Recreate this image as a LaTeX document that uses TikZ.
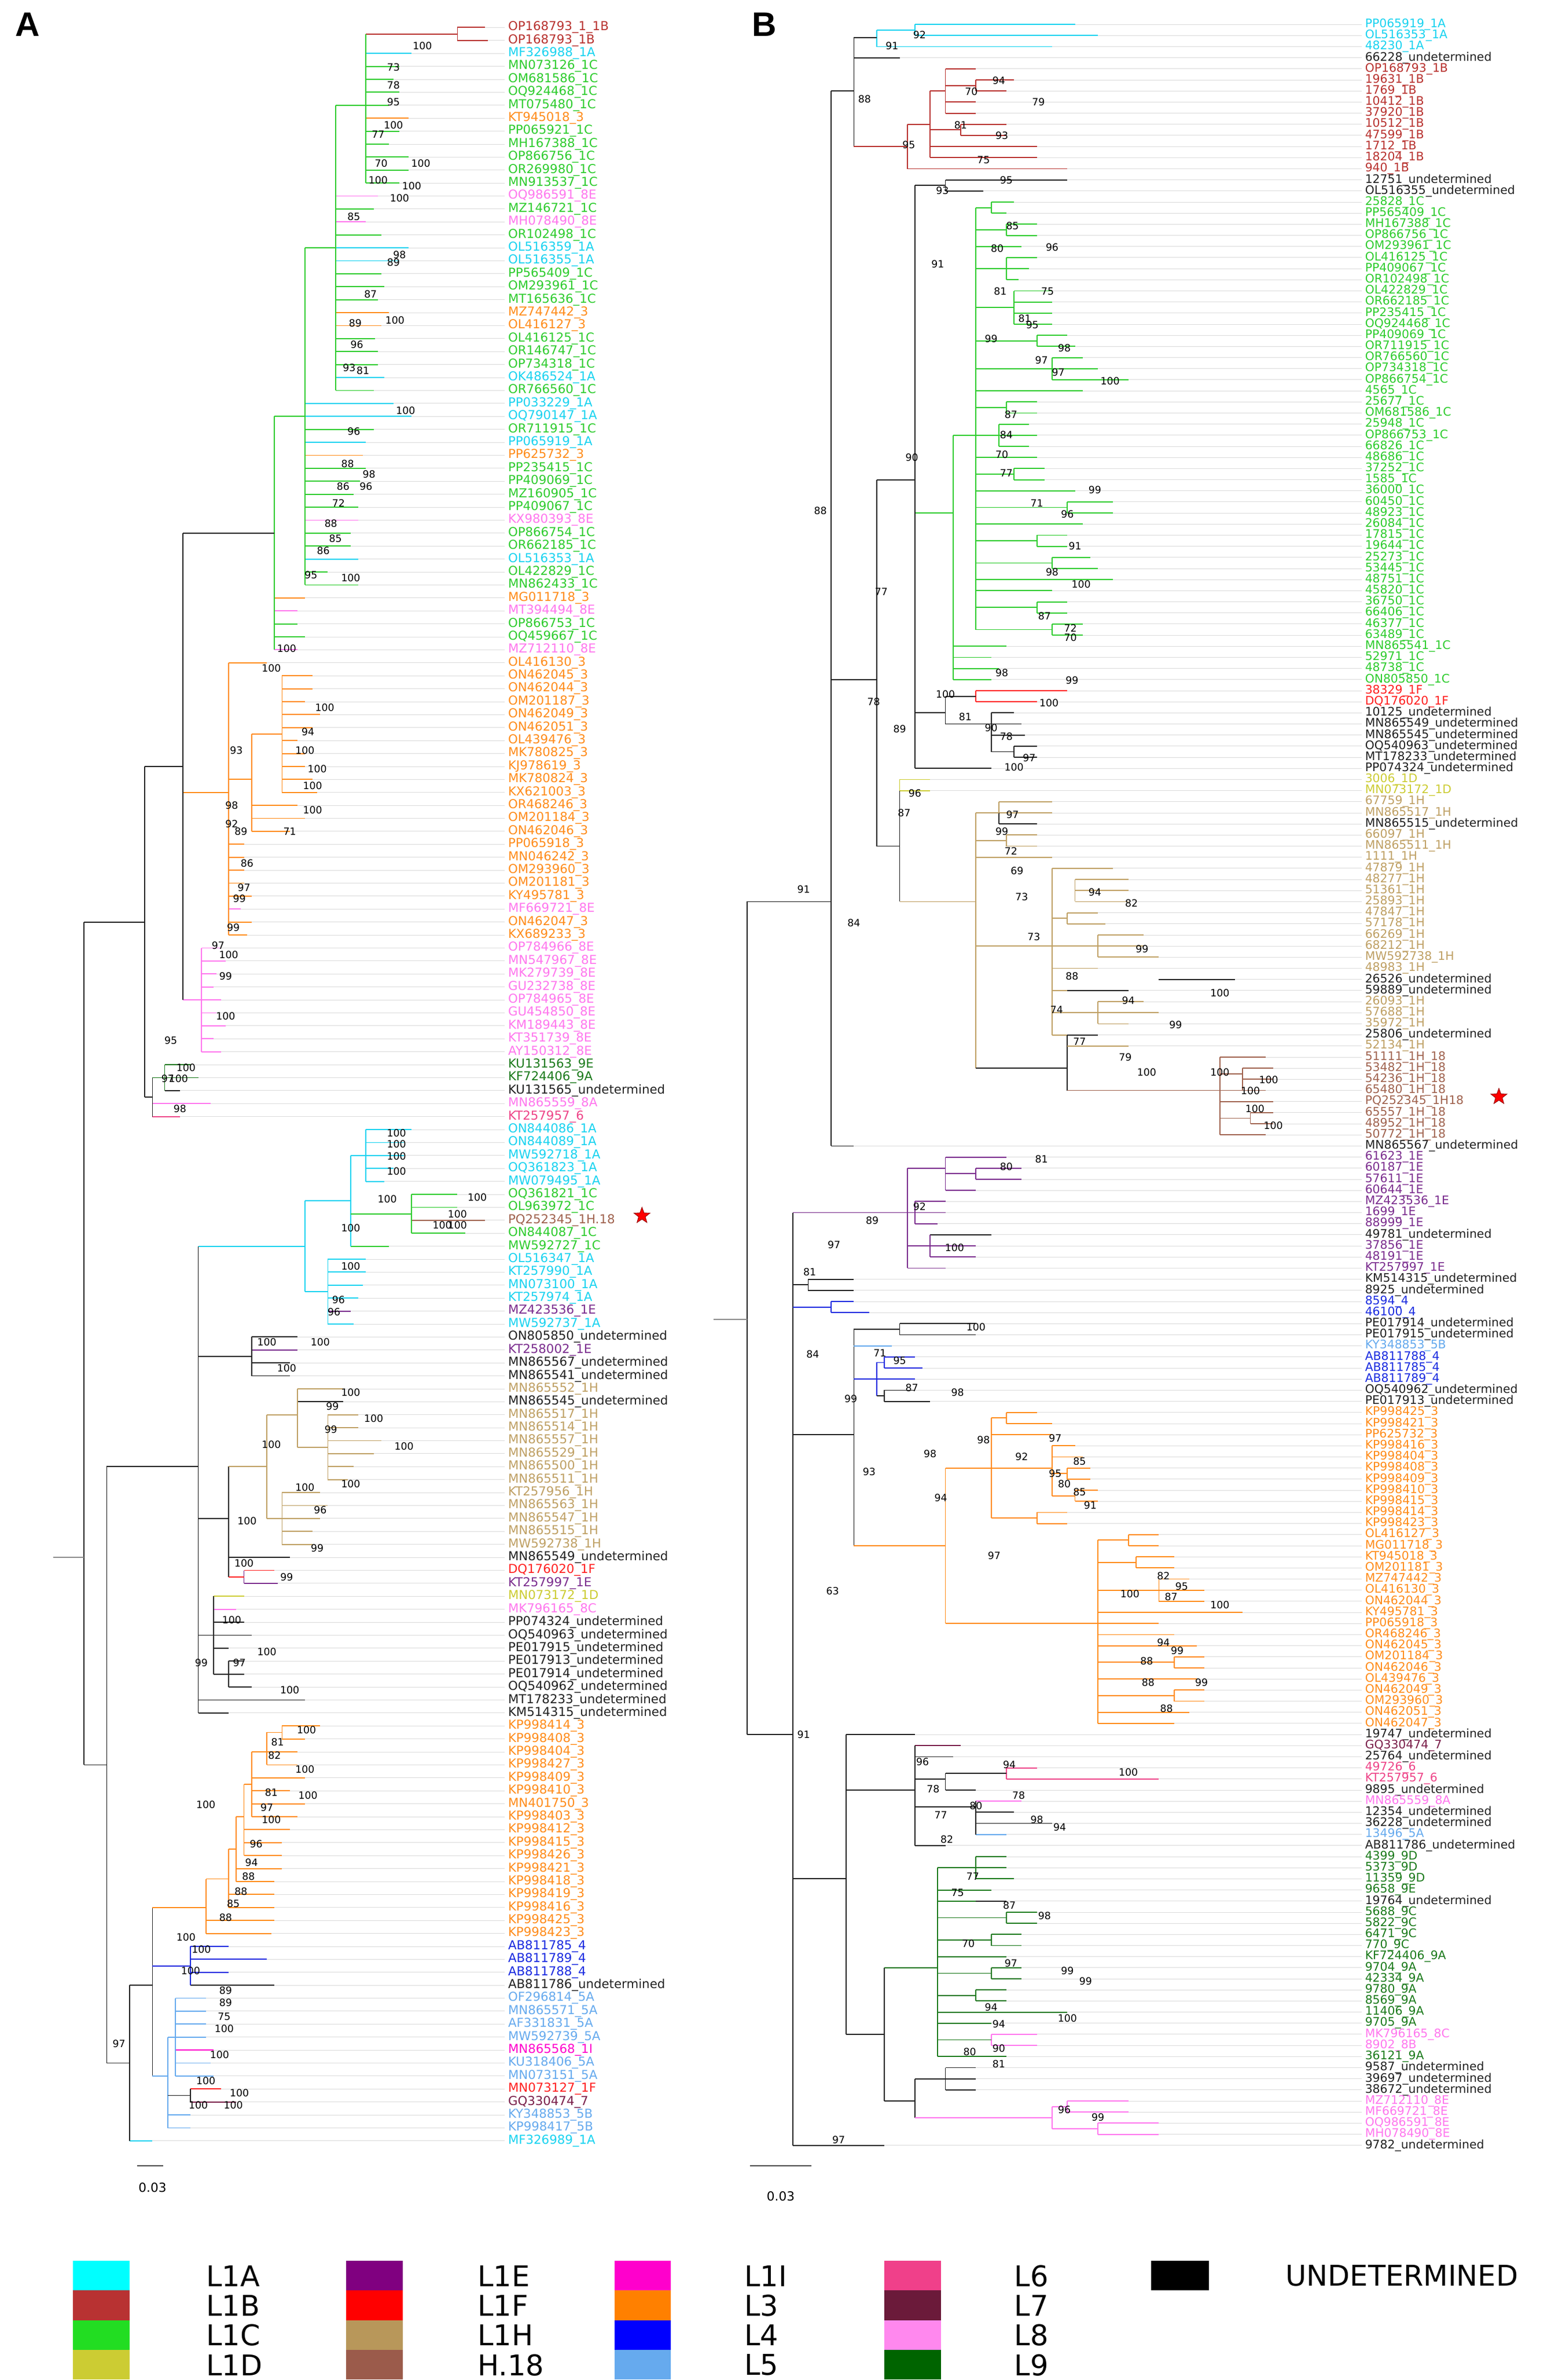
\documentclass[tikz,border=0pt]{standalone}
\usepackage{fontspec}
\setmainfont{DejaVu Sans}
\newfontfamily\lsans{Liberation Sans}
\usetikzlibrary{shapes.geometric}
\definecolor{cola}{HTML}{19D3F0}
\definecolor{colb}{HTML}{B8322F}
\definecolor{colc}{HTML}{2ECC2E}
\definecolor{cold}{HTML}{CCCC33}
\definecolor{cole}{HTML}{7B2D8E}
\definecolor{colf}{HTML}{FF2020}
\definecolor{colh}{HTML}{BFA064}
\definecolor{colr}{HTML}{A0634F}
\definecolor{coli}{HTML}{FF00CC}
\definecolor{colt}{HTML}{FF8C1A}
\definecolor{colg}{HTML}{1A2BE0}
\definecolor{colp}{HTML}{66AAEE}
\definecolor{cols}{HTML}{EE4488}
\definecolor{colm}{HTML}{7A1F4A}
\definecolor{colk}{HTML}{FF77EE}
\definecolor{coln}{HTML}{1B7A1B}
\definecolor{colu}{HTML}{222222}
\definecolor{LA}{HTML}{00FFFF}
\definecolor{LB}{HTML}{B83232}
\definecolor{LC}{HTML}{22DD22}
\definecolor{LD}{HTML}{CCCC33}
\definecolor{LE}{HTML}{800080}
\definecolor{LF}{HTML}{FF0000}
\definecolor{LH}{HTML}{B8975A}
\definecolor{LR}{HTML}{9B5B4B}
\definecolor{LI}{HTML}{FF00CC}
\definecolor{LT}{HTML}{FF8000}
\definecolor{LG}{HTML}{0000FF}
\definecolor{LP}{HTML}{66AAEE}
\definecolor{LS}{HTML}{F0408A}
\definecolor{LM}{HTML}{6B1A3A}
\definecolor{LK}{HTML}{FF88EE}
\definecolor{LN}{HTML}{006400}
\tikzset{
 br/.style={line width=0.6pt},
 guide/.style={line width=0.3pt,black!14},
 labA/.style={anchor=west,inner sep=0pt,font=\fontsize{6.9}{7}\selectfont},
 labB/.style={anchor=west,inner sep=0pt,font=\fontsize{6.6}{7}\selectfont},
 bs/.style={inner sep=0pt,font=\fontsize{5.6}{6}\selectfont},
 legtxt/.style={anchor=west,inner sep=0pt,font=\fontsize{16}{17}\selectfont},
}
\newcommand\vlA[4]{\draw[br,col#1] (#2,{18+(#3-1)*8.5}) -- (#2,{18+(#4-1)*8.5});}
\newcommand\cnA[4]{\draw[br,col#1] (#2,{18+(#4-1)*8.5}) -- (#3,{18+(#4-1)*8.5});}
\newcommand\vlB[4]{\draw[br,col#1] (#2,{16+(#3-1)*7.28}) -- (#2,{16+(#4-1)*7.28});}
\newcommand\cnB[4]{\draw[br,col#1] (#2,{16+(#4-1)*7.28}) -- (#3,{16+(#4-1)*7.28});}
\begin{document}
\begin{tikzpicture}[x=0.03cm,y=-0.03cm]
\useasboundingbox[fill=white] (0,0) rectangle (1024,1560.3);
\node[anchor=north west,inner sep=0pt,font=\lsans\bfseries\fontsize{19}{20}\selectfont] (pA) at (10,8) {A};
\node[anchor=north west,inner sep=0pt,font=\lsans\bfseries\fontsize{19}{20}\selectfont] (pB) at (493,8) {B};
% ---------------- Tree A leaves
\gdef\prevp{-1}\gdef\prevy{0}
\foreach \n/\s/\c/\p/\t [count=\i] in {
OP168793/1\_1B/b/300/318,OP168793/1B/b/300/320,MF326988/1A/a/240/270,MN073126/1C/c/240/262,OM681586/1C/c/240/258,OQ924468/1C/c/240/262,MT075480/1C/c/240/255,KT945018/3/t/240/268,PP065921/1C/c/240/262,MH167388/1C/c/240/255,
OP866756/1C/c/240/268,OR269980/1C/c/240/268,MN913537/1C/c/240/262,OQ986591/8E/k/220/248,MZ146721/1C/c/220/245,MH078490/8E/k/220/240,OR102498/1C/c/220/250,OL516359/1A/a/220/268,OL516355/1A/a/220/262,PP565409/1C/c/220/250,
OM293961/1C/c/220/252,MT165636/1C/c/220/248,MZ747442/3/t/220/255,OL416127/3/t/220/250,OL416125/1C/c/220/246,OR146747/1C/c/220/248,OP734318/1C/c/220/248,OK486524/1A/a/220/252,OR766560/1C/c/220/245,PP033229/1A/a/200/258,
OQ790147/1A/a/200/270,OR711915/1C/c/200/245,PP065919/1A/a/200/240,PP625732/3/t/200/238,PP235415/1C/c/200/240,PP409069/1C/c/200/236,MZ160905/1C/c/200/232,PP409067/1C/c/200/235,KX980393/8E/k/200/235,OP866754/1C/c/200/230,
OR662185/1C/c/200/230,OL516353/1A/a/200/235,OL422829/1C/c/200/215,MN862433/1C/c/200/235,MG011718/3/t/180/200,MT394494/8E/k/180/195,OP866753/1C/c/180/195,OQ459667/1C/c/180/200,MZ712110/8E/k/180/195,OL416130/3/t/150/175,
ON462045/3/t/185/205,ON462044/3/t/185/205,OM201187/3/t/185/200,ON462049/3/t/185/210,ON462051/3/t/185/205,OL439476/3/t/185/195,MK780825/3/t/185/200,KJ978619/3/t/185/200,MK780824/3/t/185/205,KX621003/3/t/185/208,
OR468246/3/t/165/195,OM201184/3/t/165/200,ON462046/3/t/165/190,PP065918/3/t/150/160,MN046242/3/t/150/160,OM293960/3/t/150/160,OM201181/3/t/150/160,KY495781/3/t/150/165,MF669721/8E/k/150/158,ON462047/3/t/150/165,
KX689233/3/t/150/162,OP784966/8E/k/132/145,MN547967/8E/k/132/148,MK279739/8E/k/132/142,GU232738/8E/k/132/140,OP784965/8E/k/132/145,GU454850/8E/k/132/142,KM189443/8E/k/132/148,KT351739/8E/k/132/140,AY150312/8E/k/132/145,
KU131563/9E/n/108/125,KF724406/9A/n/108/130,KU131565/undetermined/u/108/118,MN865559/8A/k/100/138,KT257957/6/s/100/118,ON844086/1A/a/240/270,ON844089/1A/a/240/265,MW592718/1A/a/240/265,OQ361823/1A/a/240/258,MW079495/1A/a/240/252,
OQ361821/1C/c/270/300,OL963972/1C/c/270/300,PQ252345/1H.18/r/270/318,ON844087/1C/c/270/305,MW592727/1C/c/230/255,OL516347/1A/a/215/240,KT257990/1A/a/215/240,MN073100/1A/a/215/238,KT257974/1A/a/215/235,MZ423536/1E/e/215/230,
MW592737/1A/a/215/232,ON805850/undetermined/u/165/195,KT258002/1E/e/165/195,MN865567/undetermined/u/165/190,MN865541/undetermined/u/165/190,MN865552/1H/h/195/225,MN865545/undetermined/u/195/225,MN865517/1H/h/215/235,MN865514/1H/h/215/235,MN865557/1H/h/215/250,
MN865529/1H/h/215/245,MN865500/1H/h/215/232,MN865511/1H/h/215/228,KT257956/1H/h/185/210,MN865563/1H/h/185/215,MN865547/1H/h/185/210,MN865515/1H/h/185/205,MW592738/1H/h/185/205,MN865549/undetermined/u/150/190,DQ176020/1F/f/160/180,
KT257997/1E/e/160/182,MN073172/1D/d/140/160,MK796165/8C/k/140/155,PP074324/undetermined/u/140/160,OQ540963/undetermined/u/140/165,PE017915/undetermined/u/140/150,PE017913/undetermined/u/150/160,PE017914/undetermined/u/150/160,OQ540962/undetermined/u/150/165,MT178233/undetermined/u/130/200,
KM514315/undetermined/u/130/150,KP998414/3/t/185/210,KP998408/3/t/185/200,KP998404/3/t/175/195,KP998427/3/t/175/195,KP998409/3/t/165/200,KP998410/3/t/165/190,MN401750/3/t/165/200,KP998403/3/t/165/195,KP998412/3/t/160/190,
KP998415/3/t/160/185,KP998426/3/t/160/185,KP998421/3/t/155/185,KP998418/3/t/155/180,KP998419/3/t/150/180,KP998416/3/t/150/180,KP998425/3/t/135/180,KP998423/3/t/135/178,AB811785/4/g/125/150,AB811789/4/g/125/175,
AB811788/4/g/125/150,AB811786/undetermined/u/125/180,OF296814/5A/p/115/135,MN865571/5A/p/115/135,AF331831/5A/p/115/135,MW592739/5A/p/115/135,MN865568/1I/i/115/140,KU318406/5A/p/115/138,MN073151/5A/p/115/140,MN073127/1F/f/125/145,
GQ330474/7/m/125/155,KY348853/5B/p/110/125,KP998417/5B/p/110/125,MF326989/1A/a/85/100}{
 \pgfmathsetmacro\yy{18+(\i-1)*8.5}
 \draw[br,col\c] (\p,\yy) -- (\t,\yy);
 \draw[guide] (\t,\yy) -- (331,\yy);
 \node[labA,text=col\c] (a\i) at (333,\yy) {\n\_\s};
 \ifnum\p=\prevp \draw[br,col\c] (\p,\prevy) -- (\p,\yy); \fi
 \xdef\prevp{\p}\xdef\prevy{\yy}
}
% ---------------- Tree A internal
\cnA{b}{240}{300}{1.5}\vlA{b}{300}{1}{2}
\vlA{c}{240}{1.5}{13}\cnA{c}{220}{240}{7}
\vlA{c}{220}{7}{29}\cnA{c}{200}{220}{18}
\vlA{c}{200}{18}{44}\cnA{c}{180}{200}{31}
\vlA{c}{180}{31}{49}\cnA{u}{120}{180}{40}
\vlA{t}{185}{51}{60}\cnA{t}{165}{185}{55.5}
\vlA{t}{165}{55.5}{63}\cnA{t}{150}{165}{59}
\vlA{t}{150}{50}{71}\cnA{t}{120}{150}{60}
\vlA{k}{132}{72}{80}\cnA{k}{120}{132}{76}
\vlA{u}{120}{40}{76}\cnA{u}{95}{120}{58}
\vlA{n}{108}{81}{83}\vlA{u}{100}{82}{85}\cnA{n}{100}{108}{82}
\vlA{u}{95}{58}{83.5}\cnA{u}{95}{100}{83.5}\cnA{u}{55}{95}{70}
\vlA{a}{240}{86}{90}\vlA{c}{270}{91}{94}\vlA{a}{230}{88}{95}\cnA{a}{230}{240}{88}\cnA{c}{230}{270}{92.5}
\vlA{a}{215}{96}{101}\vlA{a}{200}{91.5}{98.5}\cnA{a}{200}{230}{91.5}\cnA{a}{200}{215}{98.5}
\vlA{u}{165}{102}{105}
\vlA{h}{195}{106}{110.5}\cnA{h}{195}{215}{110.5}
\vlA{h}{175}{108}{116}\cnA{h}{175}{195}{108}\cnA{h}{175}{185}{116}
\vlA{u}{150}{112}{120.5}\cnA{h}{150}{175}{112}\cnA{f}{150}{160}{120.5}
\vlA{u}{140}{122}{128}\cnA{u}{140}{150}{128}
\vlA{u}{130}{95}{131}\cnA{a}{130}{200}{95}\cnA{u}{130}{165}{103.5}\cnA{u}{130}{150}{116}\cnA{u}{130}{140}{125}
\vlA{t}{185}{132}{133}\vlA{t}{175}{132.5}{135}\cnA{t}{175}{185}{132.5}
\vlA{t}{165}{134}{139}\cnA{t}{165}{175}{134}
\vlA{t}{160}{136.5}{142}\cnA{t}{160}{165}{136.5}
\vlA{t}{155}{139}{144}\cnA{t}{155}{160}{139}
\vlA{t}{150}{141.5}{146}\cnA{t}{150}{155}{141.5}
\vlA{t}{135}{143.8}{148}\cnA{t}{135}{150}{143.8}
\vlA{g}{125}{149}{152}
\vlA{p}{115}{153}{159}\vlA{u}{125}{160}{161}\vlA{p}{110}{156}{163}\cnA{p}{110}{115}{156}\cnA{u}{110}{125}{160.5}
\vlA{u}{100}{146}{159}\cnA{t}{100}{135}{146}\cnA{g}{100}{125}{150.5}\cnA{p}{100}{110}{159}
\vlA{u}{85}{152}{164}\cnA{u}{85}{100}{152}
\vlA{u}{70}{112}{158}\cnA{u}{70}{130}{112}\cnA{u}{70}{85}{158}
\vlA{u}{55}{70}{135}\cnA{u}{55}{70}{135}
\draw[br,black!45] (35,1021) -- (55,1021);
% bootstrap A
\foreach \x/\y/\v in {277/30/100,258/44/73,258/56/78,258/67/95,248/88/77,258/82/100,250/107/70,276/107/100,248/118/100,270/122/100,262/130/100,232/142/85,262/167/98,258/172/89,243/193/87,233/212/89,259/210/100,234/226/96,229/241/93,238/243/81,266/269/100,232/283/96,228/304/88,242/311/98,225/319/86,240/319/96,222/330/72,217/343/88,220/353/85,212/361/86,204/377/95,230/379/100,188/425/100,178/438/100,213/464/100,202/480/94,200/492/100,155/492/93,208/504/100,205/515/100,152/528/98,205/531/100,152/540/92,158/545/89,190/545/71,162/566/86,160/582/97,157/589/99,153/608/99,143/620/97,150/626/100,148/640/99,148/666/100,112/682/95,122/700/100,110/707/97,117/707/100,118/727/98,
260/743/100,260/750/100,260/758/100,260/768/100,254/786/100,313/785/100,300/796/100,290/803/100,300/803/100,230/805/100,230/830/100,222/852/96,219/860/96,175/880/100,210/880/100,188/897/100,230/913/100,218/922/99,245/930/100,217/937/99,265/948/100,178/947/100,200/975/100,230/973/100,210/990/96,162/997/100,208/1015/99,160/1025/100,188/1034/99,152/1062/100,175/1083/100,132/1090/99,157/1090/97,190/1108/100,201/1134/100,182/1142/81,180/1151/82,200/1160/100,178/1175/81,202/1177/100,175/1185/97,178/1193/100,135/1183/100,168/1209/96,165/1221/94,163/1230/88,158/1240/88,153/1248/85,148/1257/88,122/1270/100,132/1278/100,125/1292/100,148/1305/89,148/1313/89,147/1322/75,147/1330/100,144/1347/100,135/1364/100,157/1372/100,130/1380/100,153/1380/100,78/1340/97}
 {\node[bs] at (\x,\y) {\v};}
\node[star,star points=5,star point ratio=2.4,fill=red,draw=red!60!black,line width=0.3pt,minimum size=0.33cm,inner sep=0pt] (starA) at (421,797) {};
\draw[line width=0.6pt,black!70] (90,1420) -- (107,1420);
\node[bs,font=\fontsize{7}{8}\selectfont] (sbA) at (100,1434) {0.03};
% ---------------- Tree B leaves
\gdef\prevp{-1}\gdef\prevy{0}
\foreach \n/\s/\c/\p/\t [count=\i] in {
PP065919/1A/a/600/705,OL516353/1A/a/600/720,48230/1A/a/575/690,66228/undetermined/u/560/590,OP168793/1B/b/620/640,19631/1B/b/640/665,1769/1B/b/640/660,10412/1B/b/620/640,37920/1B/b/620/640,10512/1B/b/630/660,
47599/1B/b/630/660,1712/1B/b/610/680,18204/1B/b/610/680,940/1B/b/595/700,12751/undetermined/u/645/700,OL516355/undetermined/u/620/645,25828/1C/c/650/665,PP565409/1C/c/650/660,MH167388/1C/c/660/680,OP866756/1C/c/660/680,
OM293961/1C/c/655/670,OL416125/1C/c/660/680,PP409067/1C/c/660/675,OR102498/1C/c/660/668,OL422829/1C/c/665/690,OR662185/1C/c/665/690,PP235415/1C/c/665/690,OQ924468/1C/c/665/690,PP409069/1C/c/680/700,OR711915/1C/c/680/705,
OR766560/1C/c/690/710,OP734318/1C/c/690/720,OP866754/1C/c/690/740,4565/1C/c/680/710,25677/1C/c/660/680,OM681586/1C/c/660/680,25948/1C/c/655/675,OP866753/1C/c/655/680,66826/1C/c/655/675,48686/1C/c/660/680,
37252/1C/c/665/685,1585/1C/c/665/685,36000/1C/c/680/705,60450/1C/c/700/730,48923/1C/c/700/730,26084/1C/c/690/710,17815/1C/c/680/700,19644/1C/c/680/700,25273/1C/c/690/715,53445/1C/c/690/720,
48751/1C/c/695/730,45820/1C/c/660/690,36750/1C/c/680/700,66406/1C/c/680/700,46377/1C/c/690/710,63489/1C/c/690/710,MN865541/1C/c/625/660,52971/1C/c/625/650,48738/1C/c/625/655,ON805850/1C/c/625/650,
38329/1F/f/670/700,DQ176020/1F/f/640/680,10125/undetermined/u/650/665,MN865549/undetermined/u/650/670,MN865545/undetermined/u/650/672,OQ540963/undetermined/u/665/680,MT178233/undetermined/u/665/680,PP074324/undetermined/u/600/650,3006/1D/d/590/610,MN073172/1D/d/590/610,
67759/1H/h/655/690,MN865517/1H/h/655/690,MN865515/undetermined/u/655/680,66097/1H/h/660/680,MN865511/1H/h/660/680,1111/1H/h/665/690,47879/1H/h/700/730,48277/1H/h/705/740,51361/1H/h/705/740,25893/1H/h/705/740,
47847/1H/h/700/720,57178/1H/h/700/725,66269/1H/h/720/750,68212/1H/h/720/750,MW592738/1H/h/720/760,48983/1H/h/700/720,26526/undetermined/u/760/810,59889/undetermined/u/700/740,26093/1H/h/720/750,57688/1H/h/720/760,
35972/1H/h/720/740,25806/undetermined/u/700/720,52134/1H/h/720/740,51111/1H\_18/r/810/830,53482/1H\_18/r/815/835,54236/1H\_18/r/815/835,65480/1H\_18/r/815/830,PQ252345/1H18/r/810/835,65557/1H\_18/r/820/835,48952/1H\_18/r/820/835,
50772/1H\_18/r/815/830,MN865567/undetermined/u/545/560,61623/1E/e/620/660,60187/1E/e/640/670,57611/1E/e/640/670,60644/1E/e/620/640,MZ423536/1E/e/600/620,1699/1E/e/600/620,88999/1E/e/600/615,49781/undetermined/u/610/650,
37856/1E/e/610/640,48191/1E/e/610/640,KT257997/1E/e/595/620,KM514315/undetermined/u/530/560,8925/undetermined/u/530/560,8594/4/g/545/560,46100/4/g/545/570,PE017914/undetermined/u/590/640,PE017915/undetermined/u/590/640,KY348853/5B/p/570/585,
AB811788/4/g/580/600,AB811785/4/g/580/605,AB811789/4/g/575/600,OQ540962/undetermined/u/580/600,PE017913/undetermined/u/580/610,KP998425/3/t/660/680,KP998421/3/t/660/690,PP625732/3/t/670/690,KP998416/3/t/690/705,KP998404/3/t/695/710,
KP998408/3/t/700/715,KP998409/3/t/700/715,KP998410/3/t/705/720,KP998415/3/t/705/720,KP998414/3/t/680/700,KP998423/3/t/680/700,OL416127/3/t/740/760,MG011718/3/t/740/760,KT945018/3/t/745/770,OM201181/3/t/745/770,
MZ747442/3/t/760/780,OL416130/3/t/760/790,ON462044/3/t/760/790,KY495781/3/t/785/815,PP065918/3/t/740/760,OR468246/3/t/745/770,ON462045/3/t/760/785,OM201184/3/t/770/790,ON462046/3/t/770/790,OL439476/3/t/760/785,
ON462049/3/t/770/790,OM293960/3/t/770/790,ON462051/3/t/760/780,ON462047/3/t/750/770,19747/undetermined/u/555/600,GQ330474/7/m/600/630,25764/undetermined/u/600/625,49726/6/s/660/680,KT257957/6/s/730/760,9895/undetermined/u/620/640,
MN865559/8A/k/640/670,12354/undetermined/u/640/665,36228/undetermined/u/660/690,13496/5A/p/640/660,AB811786/undetermined/u/600/620,4399/9D/n/640/660,5373/9D/n/640/660,11359/9D/n/640/665,9658/9E/n/630/650,19764/undetermined/u/640/660,
5688/9C/n/660/680,5822/9C/n/660/680,6471/9C/n/650/670,770/9C/n/650/670,KF724406/9A/n/640/660,9704/9A/n/650/670,42334/9A/n/650/670,9780/9A/n/640/660,8569/9A/n/640/660,11406/9A/n/650/700,
9705/9A/n/630/650,MK796165/8C/k/650/680,8902/8B/k/650/680,36121/9A/n/640/660,9587/undetermined/u/620/640,39697/undetermined/u/620/640,38672/undetermined/u/620/640,MZ712110/8E/k/700/740,MF669721/8E/k/700/740,OQ986591/8E/k/720/760,
MH078490/8E/k/720/760,9782/undetermined/u/520/580}{
 \pgfmathsetmacro\yy{16+(\i-1)*7.28}
 \draw[br,col\c] (\p,\yy) -- (\t,\yy);
 \draw[guide] (\t,\yy) -- (893,\yy);
 \node[labB,text=col\c] (b\i) at (895,\yy) {\n\_\s};
 \ifnum\p=\prevp \draw[br,col\c] (\p,\prevy) -- (\p,\yy); \fi
 \xdef\prevp{\p}\xdef\prevy{\yy}
}
% ---------------- Tree B internal
\vlB{a}{600}{1}{2}\cnB{a}{575}{600}{1.5}\vlB{a}{575}{1.5}{3}\cnB{u}{560}{575}{2.2}\vlB{u}{560}{2.2}{12}\cnB{b}{560}{595}{12}
\cnB{b}{620}{640}{6.5}\vlB{b}{620}{5}{9}\cnB{b}{610}{620}{7}\vlB{b}{630}{10}{11}\cnB{b}{610}{630}{10.5}\vlB{b}{610}{7}{13}\vlB{b}{595}{10}{14}\cnB{b}{595}{610}{10}
\cnB{u}{620}{645}{15}\vlB{u}{620}{15}{16}\cnB{u}{600}{620}{15.5}
\vlB{c}{640}{17.5}{55.5}
\foreach \r/\x in {17.5/650,19.5/660,21/655,23/660,26.5/665,29.5/680,32/690,34/680,35.5/660,38/655,40/660,41.5/665,43/680,44.5/700,46/690,47.5/680,49.5/690,51/695,52/660,53.5/680,55.5/690}{\cnB{c}{640}{\x}{\r}}
\vlB{c}{625}{38}{60}\cnB{c}{625}{640}{38}\cnB{c}{600}{625}{45}
\cnB{f}{640}{670}{61}\vlB{f}{640}{61}{62}\cnB{u}{650}{665}{66.5}\vlB{u}{650}{63}{66.5}\cnB{u}{620}{640}{61.5}\cnB{u}{620}{650}{64}\vlB{u}{620}{61.5}{64}\cnB{u}{600}{620}{63}
\vlB{u}{600}{15.5}{68}
\cnB{u}{575}{600}{42}\vlB{u}{575}{42}{75}\cnB{u}{575}{590}{75}
\vlB{u}{590}{70}{80}\cnB{h}{590}{640}{80}
\vlB{h}{640}{72}{95}
\foreach \r/\x in {72/655,74.5/660,76/665,84/690}{\cnB{h}{640}{\x}{\r}}
\cnB{u}{640}{700}{95}
\vlB{h}{690}{77}{92}
\foreach \r/\x in {77/700,81.5/700,86/700,88/700,92/700,84/720,90/720}{\cnB{h}{690}{\x}{\r}}
\vlB{u}{700}{92}{97}\cnB{h}{700}{720}{93}\cnB{r}{700}{800}{97}
\vlB{r}{800}{94}{101}
\foreach \r/\x in {94/810,98/810,95.5/815,97/815,101/815,99.5/820}{\cnB{r}{800}{\x}{\r}}
\cnB{u}{545}{560}{7}\cnB{u}{545}{575}{60}\vlB{u}{545}{7}{102}
\vlB{e}{620}{103}{106}\cnB{e}{620}{640}{104.5}\vlB{e}{595}{104}{113}\cnB{e}{595}{620}{104}\cnB{e}{595}{600}{108}\cnB{e}{595}{610}{111}
\vlB{u}{520}{108}{192}\cnB{e}{520}{595}{108}\cnB{u}{520}{530}{114.5}\cnB{g}{520}{545}{116.5}
\vlB{u}{560}{118.5}{138}\cnB{u}{560}{590}{118.5}\cnB{p}{560}{570}{120}\cnB{g}{560}{575}{123}\vlB{g}{575}{121.5}{124.5}\cnB{g}{575}{580}{121.5}\cnB{u}{575}{580}{124.5}\cnB{u}{520}{560}{128}\cnB{t}{560}{620}{138}
\vlB{t}{650}{126.5}{135.5}
\foreach \r/\x in {126.5/660,128/670,131/690,135.5/680}{\cnB{t}{650}{\x}{\r}}
\vlB{t}{690}{129}{133.5}
\foreach \r/\x in {130/695,131.5/700,133.5/705}{\cnB{t}{690}{\x}{\r}}
\vlB{t}{720}{137.5}{154}
\foreach \r/\x in {137.5/740,139.5/745,142/760,144/785,145/740,146/745,147/760,148.5/770,150/760,151.5/770,153/760,154/750}{\cnB{t}{720}{\x}{\r}}
\vlB{t}{620}{131}{145}\cnB{t}{620}{650}{131}\cnB{t}{620}{720}{145}
\vlB{s}{660}{158}{159}\cnB{s}{660}{730}{159}\cnB{u}{620}{660}{158.5}\vlB{u}{620}{158.5}{160}\vlB{u}{640}{161.5}{164}\cnB{u}{640}{660}{163}
\vlB{u}{600}{156}{165}\cnB{u}{600}{620}{159}\cnB{u}{600}{640}{161.5}\cnB{u}{555}{600}{160}
\vlB{n}{615}{167}{184}
\foreach \r/\x in {167/640,169/630,170/640,171.5/660,173.5/650,175/640,176.5/650,178.5/640,180/650,181/630,182.5/650,184/640}{\cnB{n}{615}{\x}{\r}}
\vlB{k}{690}{188.5}{190.5}\cnB{k}{690}{700}{188.5}\cnB{k}{690}{720}{190.5}
\vlB{u}{600}{186}{189.5}\cnB{u}{600}{620}{186}\cnB{k}{600}{690}{189.5}
\vlB{u}{580}{176}{188}\cnB{n}{580}{615}{176}\cnB{u}{580}{600}{188}
\vlB{u}{555}{155}{182}\cnB{u}{555}{580}{182}\cnB{u}{520}{555}{168}
\vlB{u}{490}{80}{155}\cnB{u}{490}{545}{80}\cnB{u}{490}{520}{155}
\draw[br,black!45] (468,865) -- (490,865);
% bootstrap B
\foreach \x/\y/\v in {603/23/92,585/30/91,567/65/88,655/53/94,637/60/70,681/67/79,630/82/81,657/89/93,596/95/95,645/105/75,660/118/95,618/125/93,615/173/91,664/148/85,654/163/80,690/162/96,656/191/81,687/191/75,672/209/81,677/213/95,650/222/99,698/228/98,683/236/97,694/244/97,728/250/100,663/272/87,660/285/84,657/298/70,660/310/77,598/300/90,680/330/71,718/321/99,700/337/96,705/358/91,690/375/98,709/383/100,685/404/87,702/412/72,702/418/70,538/335/88,578/388/77,657/441/98,703/446/99,620/455/100,633/470/81,650/477/90,660/483/78,675/497/97,665/503/100,688/461/100,573/460/78,590/478/89,600/520/96,593/533/87,664/534/97,657/545/99,663/558/72,667/571/69,670/588/73,718/585/94,742/592/82,678/614/73,749/622/99,703/640/88,740/656/94,800/651/100,693/662/74,771/672/99,708/683/77,738/693/79,752/703/100,800/703/100,832/708/100,820/715/100,823/727/100,835/738/100,527/583/91,560/605/84,
660/765/80,683/760/81,603/791/92,572/800/89,626/818/100,547/816/97,531/834/81,640/870/100,533/888/84,577/887/71,590/892/95,598/910/87,628/913/98,558/917/99,610/953/98,570/965/93,645/944/98,692/943/97,670/955/92,708/958/85,692/966/95,698/973/80,708/978/85,715/987/91,617/982/94,652/1020/97,763/1033/82,775/1040/95,741/1045/100,768/1047/87,800/1052/100,546/1043/63,763/1077/94,772/1082/99,752/1089/88,753/1103/88,788/1103/99,765/1120/88,527/1137/91,605/1155/96,662/1157/94,740/1162/100,612/1173/78,668/1177/78,640/1184/80,617/1190/77,680/1193/98,695/1198/94,621/1206/82,638/1230/77,628/1241/75,662/1249/87,685/1256/98,635/1274/70,663/1287/97,700/1292/99,712/1299/99,650/1316/94,655/1327/94,636/1345/80,700/1323/100,655/1343/90,655/1353/81,698/1383/96,720/1388/99,550/1403/97}
 {\node[bs] at (\x,\y) {\v};}
\node[star,star points=5,star point ratio=2.4,fill=red,draw=red!60!black,line width=0.3pt,minimum size=0.33cm,inner sep=0pt] (starB) at (983,719) {};
\draw[line width=0.6pt,black!70] (492,1420) -- (532,1420);
\node[bs,font=\fontsize{7}{8}\selectfont] (sbB) at (512,1440) {0.03};
% ---------------- Legend
\foreach \bx/\tx/\la/\lb/\lc/\ld/\ca/\cb/\cc/\cd in {48/135/L1A/L1B/L1C/L1D/LA/LB/LC/LD,227/313/L1E/L1F/L1H/H.18/LE/LF/LH/LR,403/488/L1I/L3/L4/L5/LI/LT/LG/LP,580/665/L6/L7/L8/L9/LS/LM/LK/LN}{
 \fill[\ca] (\bx,1482) rectangle ++(37,19.5);
 \fill[\cb] (\bx,1501.5) rectangle ++(37,19.5);
 \fill[\cc] (\bx,1521) rectangle ++(37,19.5);
 \fill[\cd] (\bx,1540.5) rectangle ++(37,19.5);
 \node[legtxt] at (\tx,1492) {\la};
 \node[legtxt] at (\tx,1511.5) {\lb};
 \node[legtxt] at (\tx,1531) {\lc};
 \node[legtxt] at (\tx,1550.5) {\ld};
}
\fill[black] (755,1482) rectangle ++(38,19.5);
\node[legtxt] (undet) at (843,1492) {UNDETERMINED};
\end{tikzpicture}
\end{document}
